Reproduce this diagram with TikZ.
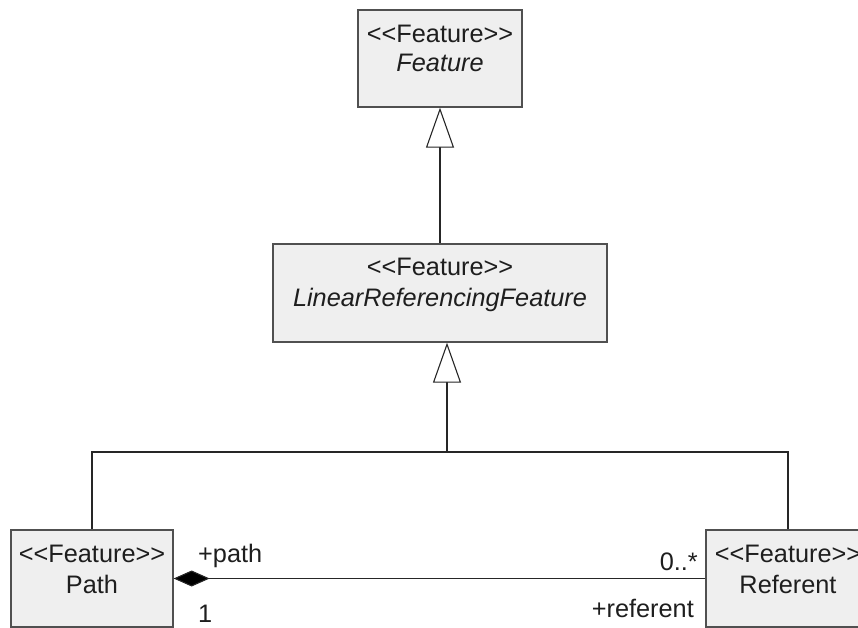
\documentclass[tikz,border=0pt]{standalone}
\usepackage{fontspec}
\setmainfont{Liberation Sans}
\usetikzlibrary{arrows.meta}
\definecolor{boxfill}{HTML}{EFEFEF}
\definecolor{boxline}{HTML}{505050}
\definecolor{txt}{HTML}{1E1E1E}
\begin{document}
\begin{tikzpicture}[x=1pt,y=-1pt,
  umlbox/.style={draw=boxline, fill=boxfill, line width=1.3pt, rectangle, inner sep=0pt},
  lbl/.style={inner sep=0pt, text=txt, font=\fontsize{25.3}{30}\selectfont},
  conn/.style={draw=black!85, line width=1.1pt},
  gen/.style={conn, -{Triangle[fill=white, length=40pt, width=28pt]}},
  comp/.style={conn, -{Diamond[fill=black, length=36pt, width=16pt]}}]
\useasboundingbox (0,0) rectangle (858,628);
\clip (0,0) rectangle (858,628);
% boxes
\node[umlbox, minimum width=164pt, minimum height=97pt] (feature) at (440,58.5) {};
\node[umlbox, minimum width=334pt, minimum height=98pt] (lrf) at (440,293) {};
\node[umlbox, minimum width=162pt, minimum height=97pt] (path) at (92,578.5) {};
\node[umlbox, minimum width=164pt, minimum height=97pt] (referent) at (788,578.5) {};
% box texts
\node[lbl, anchor=base] (t1) at (440,43) {<{}<Feature>{}>};
\node[lbl, anchor=base] (t2) at (440,72) {\itshape Feature};
\node[lbl, anchor=base] (t3) at (440,275) {<{}<Feature>{}>};
\node[lbl, anchor=base] (t4) at (440,306) {\itshape LinearReferencingFeature};
\node[lbl, anchor=base] (t5) at (92,562) {<{}<Feature>{}>};
\node[lbl, anchor=base] (t6) at (92,593) {Path};
\node[lbl, anchor=base] (t7) at (788,562) {<{}<Feature>{}>};
\node[lbl, anchor=base] (t8) at (788,593) {Referent};
% connectors
\coordinate (j) at (447,452);
\draw[gen] (lrf.north) -- (feature.south);
\draw[conn] (path.north) |- (j) -| (referent.north);
\draw[gen] (j) -- (j |- lrf.south);
\draw[comp] (referent.west) -- (path.east);
% association end labels
\node[lbl, anchor=base west] (l1) at (198,562) {+path};
\node[lbl, anchor=base west] (l2) at (198,622) {1};
\node[lbl, anchor=base east] (l3) at (698,570) {0..*};
\node[lbl, anchor=base east] (l4) at (694,617) {+referent};
\end{tikzpicture}
\end{document}
